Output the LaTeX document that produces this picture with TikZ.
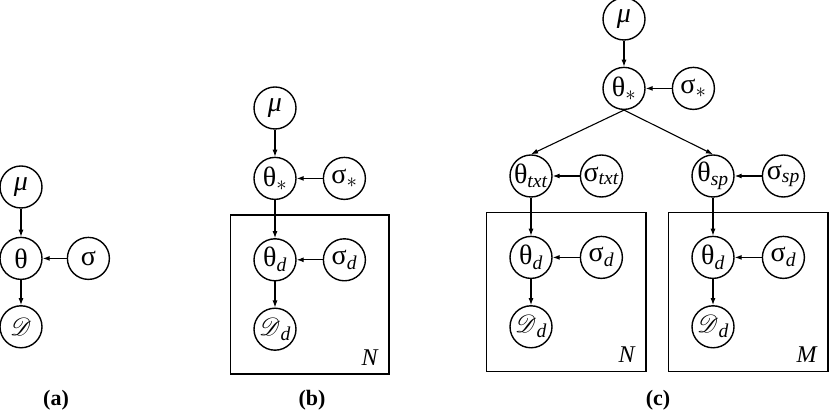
\documentclass[tikz,border=0pt]{standalone}
\usepackage{fontspec}
\setmainfont{Liberation Serif}
\usepackage{mathrsfs}
\usetikzlibrary{arrows.meta,positioning,fit}

\begin{document}
\begin{tikzpicture}[x=1pt,y=1pt,
    latent/.style={circle,draw,line width=1.4pt,minimum size=42pt,inner sep=0pt,font=\fontsize{28}{30}\selectfont},
    plate/.style={draw,line width=1.4pt,inner sep=23pt},
    edge/.style={-{Latex[length=7pt,width=5pt]},line width=1.1pt},
    caption/.style={font=\fontsize{22}{24}\selectfont\bfseries},
    count/.style={font=\fontsize{24}{26}\selectfont\itshape,anchor=south east,inner sep=0pt}]
\useasboundingbox (0,0) rectangle (832,414);

% (a)
\node [latent] (mu1) at (21,227) {\textit{μ}};
\node [latent,below=28pt of mu1] (theta1) {θ};
\node [latent,right=24pt of theta1] (sigma1) {σ};
\node [latent,below=25pt of theta1] (D1) {$\mathscr{D}$};
\draw [edge] (mu1) -- (theta1);
\draw [edge] (sigma1) -- (theta1);
\draw [edge] (theta1) -- (D1);
\node [caption] (cap1) at (56,14) {(a)};

% (b)
\node [latent] (mu2) at (275,306) {\textit{μ}};
\node [latent,below=27pt of mu2] (theta2) {θ$_\ast$};
\node [latent,right=26pt of theta2] (sigma2) {σ$_\ast$};
\node [latent,below=38pt of theta2] (thetad2) {θ\textsubscript{\textit{d}}};
\node [latent,right=26pt of thetad2] (sigmad2) {σ\textsubscript{\textit{d}}};
\node [latent,below=26pt of thetad2] (D2) {$\mathscr{D}$\textsubscript{\textit{d}}};
\node [plate,fit=(thetad2)(sigmad2)(D2)] (plate2) {};
\node [count] (n2) at ([xshift=-12pt,yshift=9pt]plate2.south east) {N};
\draw [edge] (mu2) -- (theta2);
\draw [edge] (sigma2) -- (theta2);
\draw [edge] (theta2) -- (thetad2);
\draw [edge] (sigmad2) -- (thetad2);
\draw [edge] (thetad2) -- (D2);
\node [caption] (cap2) at (312,14) {(b)};

% (c)
\node [latent] (mu3) at (624,395) {\textit{μ}};
\node [latent,below=26pt of mu3] (theta3) {θ$_\ast$};
\node [latent,right=26pt of theta3] (sigma3) {σ$_\ast$};
\node [latent] (thetatxt) at (531,238) {θ\textsubscript{\textit{txt}}};
\node [latent,right=27pt of thetatxt] (sigmatxt) {σ\textsubscript{\textit{txt}}};
\node [latent] (thetasp) at (713,238) {θ\textsubscript{\textit{sp}}};
\node [latent,right=27pt of thetasp] (sigmasp) {σ\textsubscript{\textit{sp}}};
\node [latent,below=38pt of thetatxt] (thetad3) {θ\textsubscript{\textit{d}}};
\node [latent,right=27pt of thetad3] (sigmad3) {σ\textsubscript{\textit{d}}};
\node [latent,below=26pt of thetad3] (D3) {$\mathscr{D}$\textsubscript{\textit{d}}};
\node [latent,below=38pt of thetasp] (thetad4) {θ\textsubscript{\textit{d}}};
\node [latent,right=27pt of thetad4] (sigmad4) {σ\textsubscript{\textit{d}}};
\node [latent,below=26pt of thetad4] (D4) {$\mathscr{D}$\textsubscript{\textit{d}}};
\node [plate,fit=(thetad3)(sigmad3)(D3)] (plate3) {};
\node [plate,fit=(thetad4)(sigmad4)(D4)] (plate4) {};
\node [count] (n3) at ([xshift=-12pt,yshift=9pt]plate3.south east) {N};
\node [count] (m4) at ([xshift=-12pt,yshift=9pt]plate4.south east) {M};
\draw [edge] (mu3) -- (theta3);
\draw [edge] (sigma3) -- (theta3);
\draw [edge] (theta3.south) -- (thetatxt.north);
\draw [edge] (theta3.south) -- (thetasp.north);
\draw [edge] (sigmatxt) -- (thetatxt);
\draw [edge] (sigmasp) -- (thetasp);
\draw [edge] (thetatxt) -- (thetad3);
\draw [edge] (sigmad3) -- (thetad3);
\draw [edge] (thetad3) -- (D3);
\draw [edge] (thetasp) -- (thetad4);
\draw [edge] (sigmad4) -- (thetad4);
\draw [edge] (thetad4) -- (D4);
\node [caption] (cap3) at (658,14) {(c)};
\end{tikzpicture}
\end{document}
